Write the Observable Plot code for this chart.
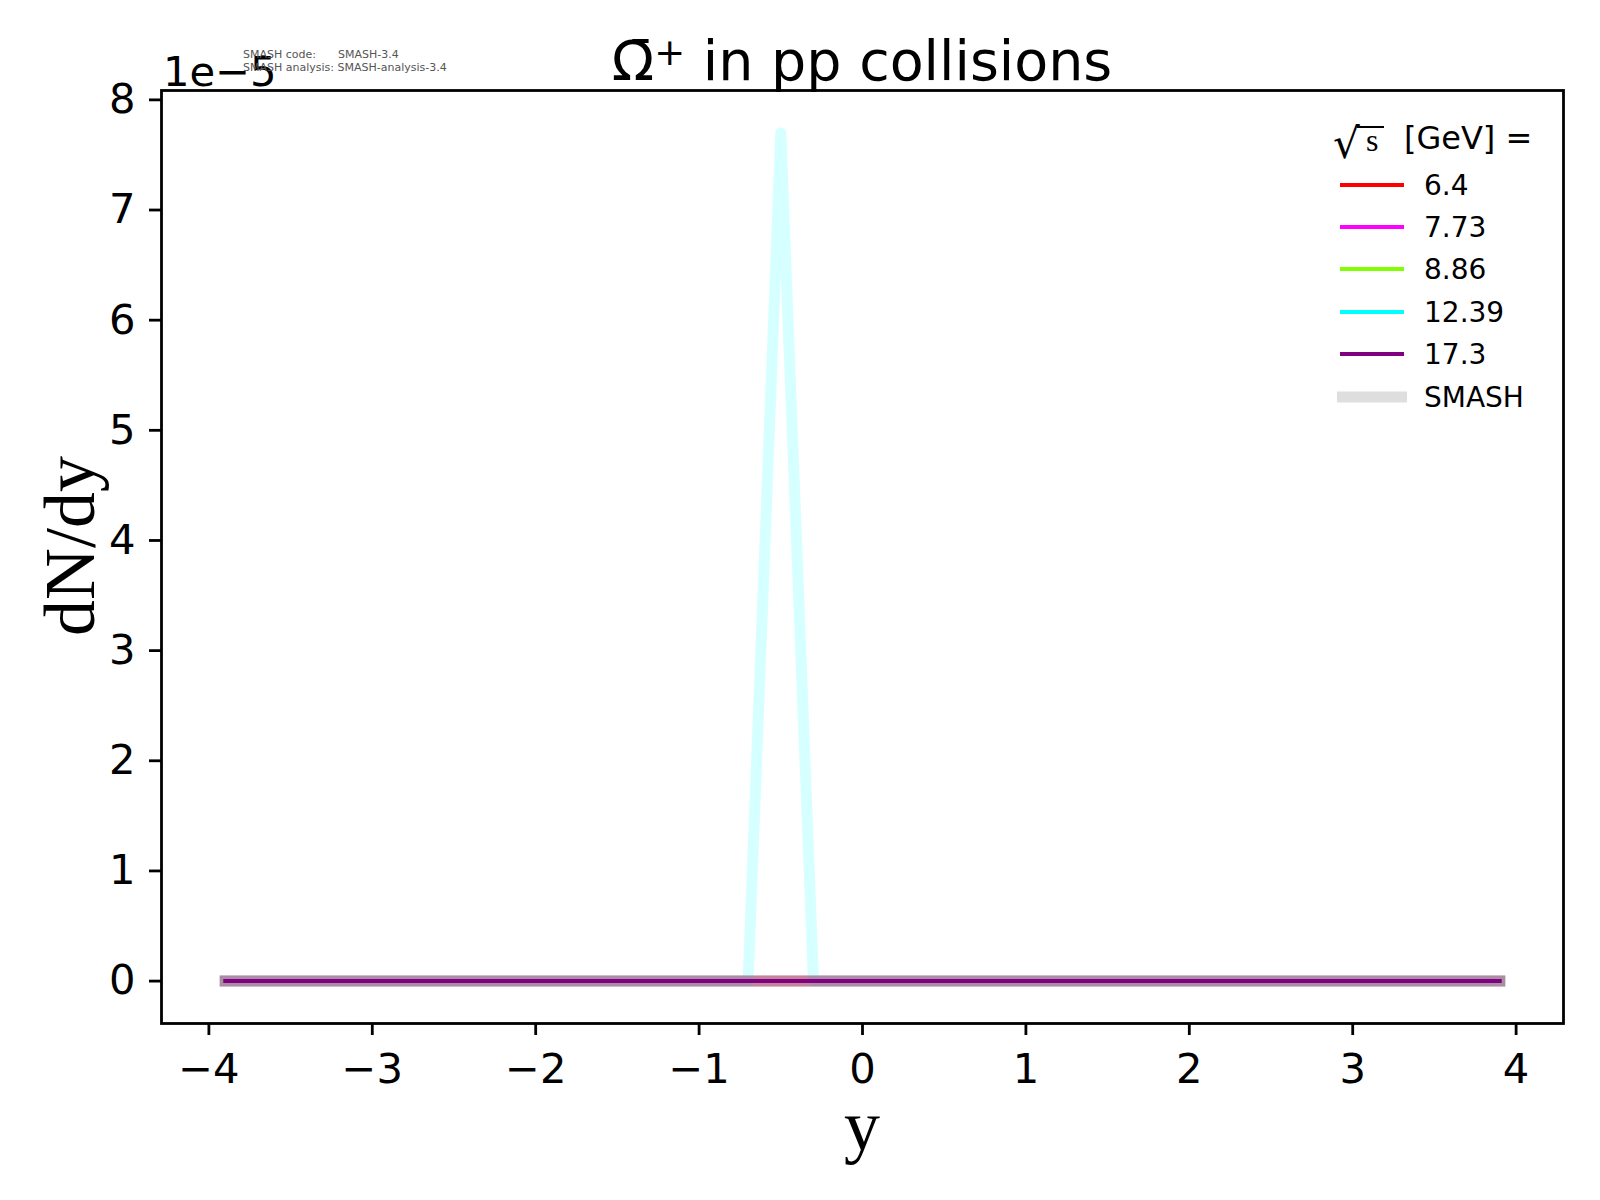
<!DOCTYPE html>
<html>
<head>
<meta charset="utf-8">
<script src="https://cdn.jsdelivr.net/npm/d3@7"></script>
<script src="https://cdn.jsdelivr.net/npm/@observablehq/plot@0.6"></script>
<style>
  html, body { margin: 0; padding: 0; background: #fff; }
  #chart svg { display: block; }
</style>
</head>
<body>
<div id="chart"></div>
<script>
// ---- data ----
const rapidity = [-3.9, -3.7, -3.5, -3.3, -3.1, -2.9, -2.7, -2.5, -2.3, -2.1,
                  -1.9, -1.7, -1.5, -1.3, -1.1, -0.9, -0.7, -0.5, -0.3, -0.1,
                   0.1,  0.3,  0.5,  0.7,  0.9,  1.1,  1.3,  1.5,  1.7,  1.9,
                   2.1,  2.3,  2.5,  2.7,  2.9,  3.1,  3.3,  3.5,  3.7,  3.9];

const energies = ["6.4", "7.73", "8.86", "12.39", "17.3"];
const colors   = ["#ff0000", "#ff00ff", "#7fff00", "#00ffff", "#800080"];
const bandOpacity = [0.15, 0.2, 0.25, 0.16, 0.3];

// SMASH dN/dy per energy
const smash_6_4   = [0,0,0,0,0,0,0,0,0,0, 0,0,0,0,0,0,0,0,0,0, 0,0,0,0,0,0,0,0,0,0, 0,0,0,0,0,0,0,0,0,0];
const smash_7_73  = [0,0,0,0,0,0,0,0,0,0, 0,0,0,0,0,0,0,0,0,0, 0,0,0,0,0,0,0,0,0,0, 0,0,0,0,0,0,0,0,0,0];
const smash_8_86  = [0,0,0,0,0,0,0,0,0,0, 0,0,0,0,0,0,0,0,0,0, 0,0,0,0,0,0,0,0,0,0, 0,0,0,0,0,0,0,0,0,0];
const smash_12_39 = [0,0,0,0,0,0,0,0,0,0, 0,0,0,0,0,0,0,7.7e-5,0,0, 0,0,0,0,0,0,0,0,0,0, 0,0,0,0,0,0,0,0,0,0];
const smash_17_3  = [0,0,0,0,0,0,0,0,0,0, 0,0,0,0,0,0,0,0,0,0, 0,0,0,0,0,0,0,0,0,0, 0,0,0,0,0,0,0,0,0,0];
const smashSeries = [smash_6_4, smash_7_73, smash_8_86, smash_12_39, smash_17_3];

const xTicks = [-4, -3, -2, -1, 0, 1, 2, 3, 4];
const yTicks = [0, 1e-5, 2e-5, 3e-5, 4e-5, 5e-5, 6e-5, 7e-5, 8e-5];

// ---- build table ----
const rows = [];
energies.forEach((e, k) => {
  smashSeries[k].forEach((v, i) => rows.push({energy: e, rap: rapidity[i], dndy: v}));
});

const W = 1600, H = 1200;
const mL = 161, mR = 37, mT = 90, mB = 177;

const bandMarks = energies.map((e, k) =>
  Plot.line(rows.filter(d => d.energy === e), {
    x: "rap", y: "dndy", stroke: colors[k], strokeWidth: 11,
    strokeOpacity: bandOpacity[k], strokeLinecap: "square", strokeLinejoin: "round"
  })
);
const thinMarks = energies.filter(e => e !== "12.39").map(e => {
  const k = energies.indexOf(e);
  return Plot.line(rows.filter(d => d.energy === e), {
    x: "rap", y: "dndy", stroke: colors[k], strokeWidth: 4,
    strokeLinecap: "square", strokeLinejoin: "round"
  });
});

const fmtMinus = d => d < 0 ? "\u2212" + Math.abs(d) : String(d);

const plot = Plot.plot({
  width: W, height: H,
  marginLeft: mL, marginRight: mR, marginTop: mT, marginBottom: mB,
  style: {fontFamily: "'DejaVu Sans', sans-serif", background: "#fff", color: "#000"},
  x: {domain: [-4.29, 4.29]},
  y: {domain: [-0.385e-5, 8.085e-5]},
  marks: [
    ...bandMarks,
    ...thinMarks,
    Plot.frame({stroke: "#000", strokeWidth: 2.8}),
    Plot.axisX({ticks: xTicks, tickSize: 12, tickPadding: 18, fontSize: 41.7,
                strokeWidth: 2.8, label: null, tickFormat: fmtMinus}),
    Plot.axisY({ticks: yTicks, tickSize: 12, tickPadding: 14, fontSize: 41.7,
                strokeWidth: 2.8, label: null, tickFormat: d => String(Math.round(d * 1e5))})
  ]
});

document.getElementById("chart").appendChild(plot);

// ---- annotations (text) ----
const svg = d3.select(plot);
const g = svg.append("g").attr("text-anchor", "start");

// title
const title = g.append("text")
  .attr("x", (mL + (W - mR)) / 2).attr("y", 80)
  .attr("text-anchor", "middle")
  .attr("font-family", "'DejaVu Sans', sans-serif")
  .attr("font-size", 55.5).attr("fill", "#000");
title.append("tspan").text("\u03A9\u0304");
title.append("tspan").attr("font-size", 37).attr("dy", -15).text("+");
title.append("tspan").attr("dy", 15).text(" in pp collisions");

// offset text
g.append("text").attr("x", 163).attr("y", 86)
  .attr("font-family", "'DejaVu Sans', sans-serif").attr("font-size", 41.7)
  .text("1e\u22125");

// SMASH version info
const info = g.append("g").attr("font-family", "'DejaVu Sans', sans-serif")
  .attr("font-size", 11).attr("fill", "#555");
info.append("text").attr("x", 243).attr("y", 58).text("SMASH code:");
info.append("text").attr("x", 338).attr("y", 58).text("SMASH-3.4");
info.append("text").attr("x", 243).attr("y", 71).text("SMASH analysis: SMASH-analysis-3.4");

// axis labels
g.append("text")
  .attr("transform", `translate(94, 546) rotate(-90)`)
  .attr("text-anchor", "middle")
  .attr("font-family", "'Liberation Serif', 'DejaVu Serif', serif")
  .attr("font-size", 72).text("dN/dy");
g.append("text")
  .attr("x", (mL + (W - mR)) / 2).attr("y", 1150)
  .attr("text-anchor", "middle")
  .attr("font-family", "'Liberation Serif', 'DejaVu Serif', serif")
  .attr("font-size", 72).text("y");

// legend
const lg = g.append("g");
lg.append("text").attr("x", 1333).attr("y", 158)
  .attr("font-family", "'DejaVu Serif', serif").attr("font-size", 42).text("\u221A");
lg.append("line").attr("x1", 1357).attr("x2", 1384).attr("y1", 127).attr("y2", 127)
  .attr("stroke", "#000").attr("stroke-width", 2);
lg.append("text").attr("x", 1366).attr("y", 151)
  .attr("font-family", "'Liberation Serif', 'DejaVu Serif', serif").attr("font-size", 32).text("s");
lg.append("text").attr("x", 1404).attr("y", 149)
  .attr("font-family", "'DejaVu Sans', sans-serif").attr("font-size", 32).text("[GeV] =");

const rowY = [185, 227, 269, 312, 354, 397];
const legendLabels = [...energies, "SMASH"];
const legendColors = [...colors, "#dedede"];
legendLabels.forEach((lab, i) => {
  const isSmash = lab === "SMASH";
  lg.append("line")
    .attr("x1", isSmash ? 1337 : 1340).attr("x2", isSmash ? 1407 : 1404)
    .attr("y1", rowY[i]).attr("y2", rowY[i])
    .attr("stroke", legendColors[i]).attr("stroke-width", isSmash ? 11 : 4);
  lg.append("text").attr("x", 1424).attr("y", rowY[i] + 10)
    .attr("font-family", "'DejaVu Sans', sans-serif").attr("font-size", 28)
    .text(lab);
});
</script>
</body>
</html>
